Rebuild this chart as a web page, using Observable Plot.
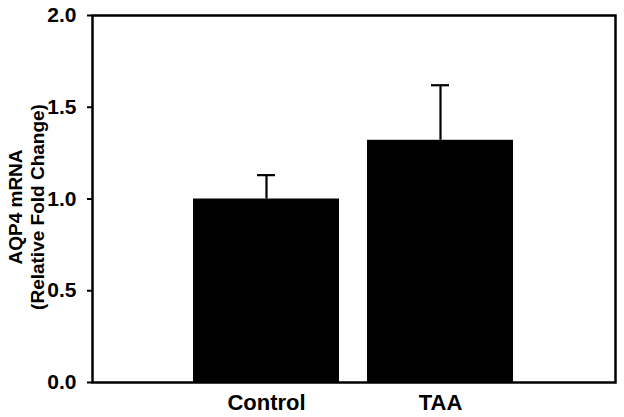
<!DOCTYPE html>
<html>
<head>
<meta charset="utf-8">
<script src="https://cdn.jsdelivr.net/npm/d3@7"></script>
<script src="https://cdn.jsdelivr.net/npm/@observablehq/plot@0.6"></script>
<style>
  body { margin: 0; background: #fff; }
  #chart svg { font-family: "Liberation Sans", Arial, sans-serif; }
</style>
</head>
<body>
<div id="chart"></div>
<script>
const groups = ["Control", "TAA"];
const means = [1.0, 1.32];
const errors = [0.13, 0.30];
const yTicks = [0, 0.5, 1.0, 1.5, 2.0];
const yLabel = "AQP4 mRNA\n(Relative Fold Change)";

const data = groups.map((g, i) => ({group: g, mean: means[i], hi: means[i] + errors[i]}));

const chart = Plot.plot({
  width: 624,
  height: 417,
  marginLeft: 92,
  marginRight: 9,
  marginTop: 15,
  marginBottom: 35,
  style: {fontFamily: "Liberation Sans, Arial, sans-serif", background: "#fff", color: "#000"},
  x: {domain: groups, paddingInner: 0.16, paddingOuter: 0.58, label: null},
  y: {domain: [0, 2], label: null},
  marks: [
    Plot.ruleX(data, {x: "group", y1: "mean", y2: "hi", stroke: "#000", strokeWidth: 2.2}),
    Plot.tickY(data, {x: "group", y: "hi", stroke: "#000", strokeWidth: 2.2, insetLeft: 64, insetRight: 64}),
    Plot.barY(data, {x: "group", y: "mean", fill: "#000"}),
    Plot.frame({stroke: "#000", strokeWidth: 2.5}),
    Plot.axisY({ticks: yTicks, tickFormat: d3.format(".1f"), tickSize: 5, tickPadding: 11, fontSize: 21, fontWeight: "bold", strokeWidth: 2, label: null}),
    Plot.axisX({tickSize: 0, tickPadding: 12, fontSize: 22, fontWeight: "bold", label: null}),
    Plot.text([yLabel], {frameAnchor: "left", textAnchor: "middle", rotate: -90, dx: -67, dy: 8, fontSize: 19, fontWeight: "bold", lineHeight: 1.16, fill: "#000"})
  ]
});
document.getElementById("chart").appendChild(chart);
</script>
</body>
</html>
